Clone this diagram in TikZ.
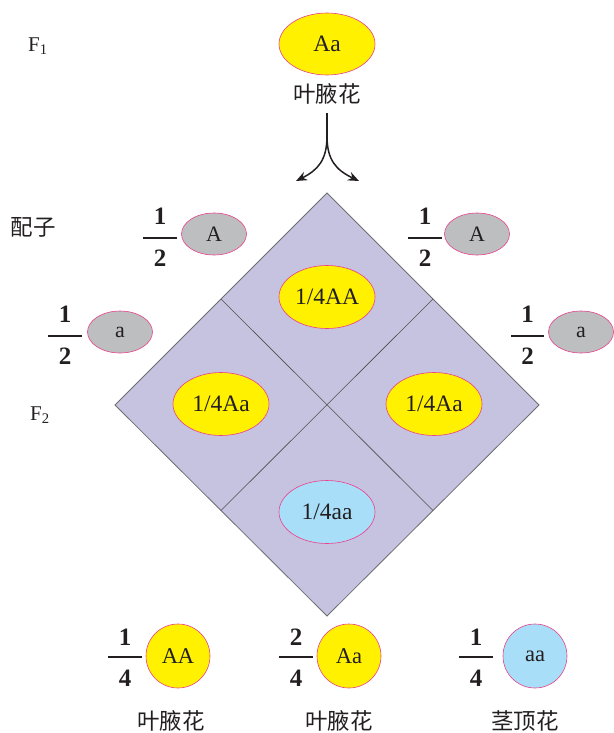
\documentclass[tikz,border=0pt]{standalone}
\usepackage{fontspec}
\setmainfont{Liberation Serif}
\newfontfamily\cjk{Noto Sans CJK SC}
\usetikzlibrary{shapes.geometric,arrows.meta}
\definecolor{yel}{HTML}{FFF100}
\definecolor{pk}{HTML}{E9408C}
\definecolor{gry}{HTML}{BCBEC0}
\definecolor{lblue}{HTML}{A8DEF8}
\definecolor{lav}{HTML}{C6C3E0}
\definecolor{dgray}{HTML}{6D6E71}
\definecolor{ink}{HTML}{231F20}
\begin{document}
\begin{tikzpicture}[x=1pt,y=-1pt,
  every node/.style={text=ink},
  ell/.style={ellipse, draw=pk, line width=0.6pt, inner sep=0pt, font=\fontsize{23.5}{23.5}\selectfont},
  cell/.style={ell, fill=yel, minimum width=96pt, minimum height=63pt},
  gam/.style={ell, fill=gry, minimum width=65pt, minimum height=42pt, font=\fontsize{22}{22}\selectfont},
  circ/.style={ell, minimum width=64pt, minimum height=64pt, font=\fontsize{22.5}{22.5}\selectfont},
  num/.style={font=\fontsize{25}{25}\selectfont\bfseries, inner sep=0pt},
  bar/.style={draw=ink, line width=1.8pt},
  cn/.style={font=\cjk\fontsize{22.5}{22.5}\selectfont, inner sep=0pt},
  lbl/.style={font=\fontsize{21}{21}\selectfont, inner sep=0pt},
  arr/.style={draw=ink, line width=1.5pt, -{Stealth[length=11pt,width=9pt]}}
]
\useasboundingbox (0,0) rectangle (613,733);

% F1 generation
\node[lbl] (f1) at (38,46) {F\textsubscript{1}};
\node[cell, minimum width=96pt, minimum height=62pt] (p) at (327,44) {Aa};
\node[cn] (plab) at (327,94) {叶腋花};
\coordinate (stemtop) at (327,113);
\coordinate (split) at (327,136);
\coordinate (gl) at (296,181);
\coordinate (gr) at (359,181);
\draw[draw=ink, line width=1.5pt] (stemtop) -- (split);
\draw[arr] (split) .. controls (327,160) and (318,170) .. (gl);
\draw[arr] (split) .. controls (327,160) and (336,170) .. (gr);

% gametes label
\node[cn] (gz) at (33,227) {配子};
\node[lbl] (f2) at (40,415) {F\textsubscript{2}};

% Punnett diamond
\coordinate (T) at (327,193);
\coordinate (R) at (539,405);
\coordinate (B) at (327,616);
\coordinate (L) at (115,405);
\coordinate (mTL) at (221,299);
\coordinate (mTR) at (433,299);
\coordinate (mBL) at (221,510.5);
\coordinate (mBR) at (433,510.5);
\draw[fill=lav, draw=dgray, line width=0.8pt] (T) -- (R) -- (B) -- (L) -- cycle;
\draw[draw=ink!80, line width=0.6pt] (mTL) -- (mBR);
\draw[draw=ink!80, line width=0.6pt] (mTR) -- (mBL);

\node[cell] (cAA) at (327,297) {1/4AA};
\node[cell] (cAa1) at (221,404) {1/4Aa};
\node[cell] (cAa2) at (434,404) {1/4Aa};
\node[cell, fill=lblue] (caa) at (327,512) {1/4aa};

% gametes left
\node[num] (n1) at (160,216.5) {1};
\coordinate (b1l) at (143,238); \coordinate (b1r) at (177,238);
\draw[bar] (b1l) -- (b1r);
\node[num] (d1) at (160,258.5) {2};
\node[gam] (gA1) at (214,234) {A};

\node[num] (n2) at (65,314.5) {1};
\coordinate (b2l) at (48,336); \coordinate (b2r) at (82,336);
\draw[bar] (b2l) -- (b2r);
\node[num] (d2) at (65,356.5) {2};
\node[gam] (ga1) at (120,332) {a};

% gametes right
\node[num] (n3) at (425,216.5) {1};
\coordinate (b3l) at (408,238); \coordinate (b3r) at (442,238);
\draw[bar] (b3l) -- (b3r);
\node[num] (d3) at (425,258.5) {2};
\node[gam] (gA2) at (477,234) {A};

\node[num] (n4) at (527.5,314.5) {1};
\coordinate (b4l) at (511,336); \coordinate (b4r) at (544,336);
\draw[bar] (b4l) -- (b4r);
\node[num] (d4) at (527.5,356.5) {2};
\node[gam] (ga2) at (581,332) {a};

% offspring
\node[num] (n5) at (125,637) {1};
\coordinate (b5l) at (108,657); \coordinate (b5r) at (142,657);
\draw[bar] (b5l) -- (b5r);
\node[num] (d5) at (125,678) {4};
\node[circ, fill=yel] (oAA) at (178,656) {AA};
\node[cn] (l1) at (171,721) {叶腋花};

\node[num] (n6) at (296,637) {2};
\coordinate (b6l) at (279,657); \coordinate (b6r) at (313,657);
\draw[bar] (b6l) -- (b6r);
\node[num] (d6) at (296,678) {4};
\node[circ, fill=yel] (oAa) at (349,656) {Aa};
\node[cn] (l2) at (339,721) {叶腋花};

\node[num] (n7) at (476,637) {1};
\coordinate (b7l) at (459,657); \coordinate (b7r) at (493,657);
\draw[bar] (b7l) -- (b7r);
\node[num] (d7) at (476,678) {4};
\node[circ, fill=lblue] (oaa) at (535,656) {aa};
\node[cn] (l3) at (525,721) {茎顶花};
\end{tikzpicture}
\end{document}
